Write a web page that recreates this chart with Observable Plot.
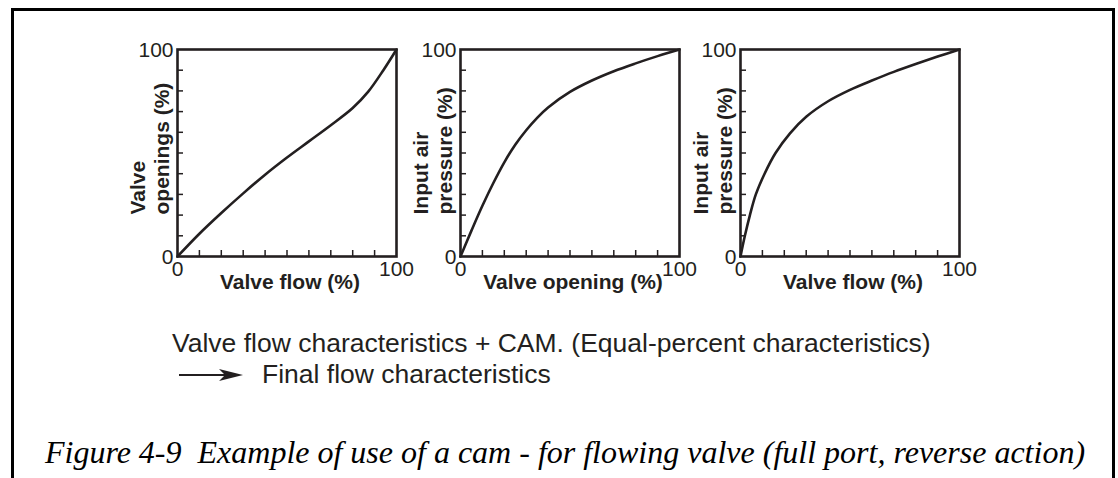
<!DOCTYPE html>
<html><head><meta charset="utf-8">
<script src="https://cdn.jsdelivr.net/npm/d3@7"></script>
<script src="https://cdn.jsdelivr.net/npm/@observablehq/plot@0.6"></script>
<style>
html,body{margin:0;padding:0;background:#fff;width:1118px;height:478px;overflow:hidden;}
#root{position:relative;width:1118px;height:478px;}
.border{position:absolute;left:11px;top:8px;width:1104px;height:530px;border:3px solid #000;box-sizing:border-box;}
.panel{position:absolute;top:0;}
.note{position:absolute;font-family:"Liberation Sans",Arial,sans-serif;font-size:26.5px;line-height:26.5px;color:#231f20;white-space:nowrap;}
.caption{position:absolute;left:12px;width:1106px;text-align:center;font-family:"Liberation Serif","Times New Roman",serif;font-style:italic;font-size:32px;line-height:32px;color:#000;white-space:nowrap;}
</style></head>
<body>
<div id="root">
  <div class="border"></div>
  <div id="p1" class="panel" style="left:120px"></div>
  <div id="p2" class="panel" style="left:403px"></div>
  <div id="p3" class="panel" style="left:683px"></div>
  <div class="note" style="left:172px;top:329.5px">Valve flow characteristics + CAM. (Equal-percent characteristics)</div>
  <svg style="position:absolute;left:0;top:0" width="300" height="478">
    <line x1="179" y1="375" x2="230" y2="375" stroke="#231f20" stroke-width="2"/>
    <polygon points="243,375 219,369 225,375 219,381" fill="#231f20"/>
  </svg>
  <div class="note" style="left:262px;top:360.5px">Final flow characteristics</div>
  <div class="caption" style="top:436px">Figure 4-9&nbsp; Example of use of a cam - for flowing valve (full port, reverse action)</div>
</div>
<script>
// Panel 1: valve flow (%) vs valve openings (%)
const flow1 = [0, 10, 20, 30, 40, 50, 60, 70, 80, 87, 94, 100];
const opening1 = [0, 11, 21, 30.5, 39.5, 47.8, 55.6, 63.4, 71.7, 79.5, 90, 100];
// Panel 2: valve opening (%) vs input air pressure (%)
const opening2 = [0, 5, 10, 15, 20, 25, 30, 35, 40, 50, 60, 70, 80, 90, 100];
const pressure2 = [0, 12.5, 24.5, 35.5, 45.5, 54, 61, 67, 72, 79.5, 85, 89.5, 93.3, 96.8, 100];
// Panel 3: valve flow (%) vs input air pressure (%)
const flow3 = [0, 2, 4.3, 7, 11, 16, 22.6, 30, 40, 50, 60, 70, 80, 90, 100];
const pressure3 = [0, 10, 20, 30, 40, 50, 59.5, 67.5, 75, 80.5, 85, 89.2, 93, 96.6, 100];

const axisTicks = [0, 100];
const minorTicks = [10, 20, 30, 40, 50, 60, 70, 80, 90];

const xLabels = ["Valve flow (%)", "Valve opening (%)", "Valve flow (%)"];
const yLabels = ["Valve\nopenings (%)", "Input air\npressure (%)", "Input air\npressure (%)"];

const ink = "#231f20";
const W = 300, H = 300, ML = 57, MR = 24, MT = 49, MB = 44;
const innerW = W - ML - MR, innerH = H - MT - MB;

function panel(xs, ys, xLabel, yLabel, curve) {
  const data = xs.map((x, i) => ({x, y: ys[i]}));
  return Plot.plot({
    width: W, height: H,
    marginLeft: ML, marginRight: MR, marginTop: MT, marginBottom: MB,
    style: {fontFamily: "'Liberation Sans', Arial, sans-serif", fontSize: "21px", color: ink, background: "transparent", overflow: "visible"},
    x: {domain: [0, 100], axis: null},
    y: {domain: [0, 100], axis: null},
    marks: [
      Plot.ruleX(minorTicks, {x: d => d, insetTop: innerH - 6, stroke: ink, strokeWidth: 1.5}),
      Plot.ruleY(minorTicks, {y: d => d, insetRight: innerW - 6, stroke: ink, strokeWidth: 1.5}),
      Plot.line(data, {x: "x", y: "y", curve, stroke: ink, strokeWidth: 2.6}),
      Plot.frame({stroke: ink, strokeWidth: 2.6}),
      Plot.text(axisTicks, {x: d => d, text: d => String(d), frameAnchor: "bottom", dy: 5, lineAnchor: "top", fontSize: 21, fill: ink}),
      Plot.text(axisTicks, {y: d => d, text: d => String(d), frameAnchor: "left", dx: -4, dy: 1, textAnchor: "end", fontSize: 21, fill: ink}),
      Plot.text([xLabel], {text: d => d, frameAnchor: "bottom", dx: 3, dy: 32, lineAnchor: "bottom", fontWeight: "bold", fontSize: 21, fill: ink}),
      Plot.text([yLabel], {text: d => d, frameAnchor: "bottom-left", dx: -9, dy: -42, rotate: -90, textAnchor: "start", lineAnchor: "bottom", lineHeight: 1.1, fontWeight: "bold", fontSize: 21, fill: ink})
    ]
  });
}

document.getElementById("p1").appendChild(panel(flow1, opening1, xLabels[0], yLabels[0], "catmull-rom"));
document.getElementById("p2").appendChild(panel(opening2, pressure2, xLabels[1], yLabels[1], "catmull-rom"));
document.getElementById("p3").appendChild(panel(flow3, pressure3, xLabels[2], yLabels[2], "catmull-rom"));
</script>
</body></html>
